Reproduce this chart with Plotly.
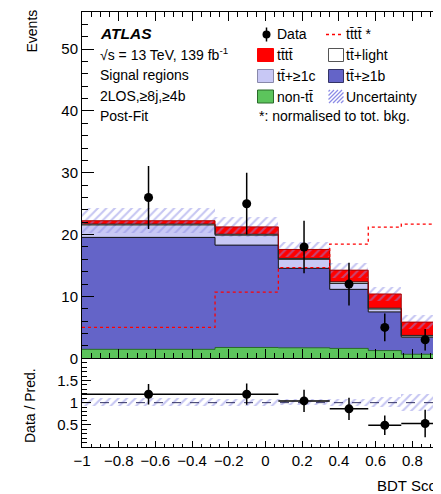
import numpy as np
import plotly.graph_objects as go

# ---------------- data ----------------
bin_edges = [-1.0, -0.275, 0.07, 0.35, 0.56, 0.74, 1.0]
data_events = [26, 25, 18, 12, 5, 3]
non_tt = [1.45, 1.75, 1.7, 1.6, 1.25, 0.65]
tt_1b = [18.1, 16.55, 12.85, 9.55, 6.25, 2.75]
tt_1c = [2.0, 1.6, 1.45, 0.95, 0.45, 0.2]
tt_light = [0.15, 0.15, 0.15, 0.25, 0.15, 0.1]
tttt = [0.55, 1.2, 1.45, 1.9, 2.3, 2.15]
bkg_unc = [2.0, 1.6, 1.15, 1.2, 1.15, 1.1]
tttt_normalised = [5.0, 10.7, 14.65, 18.45, 21.2, 21.7]
ratio_vals = [1.19, 1.19, 1.04, 0.86, 0.49, 0.53]
ratio_errs = [0.23, 0.24, 0.25, 0.25, 0.22, 0.31]
main_yticks = [0, 10, 20, 30, 40, 50]
ratio_yticks = [0.5, 1, 1.5]

# ---------------- styles ----------------
GREEN = "#5CC45C"
BLUE = "#6464C8"
LBLUE = "#C8C8F5"
WHITE = "#FFFFFF"
RED = "#FF0000"
HATCH = "#8C8CE6"
FONT = "Liberation Sans, Arial, Helvetica, sans-serif"

edges = np.array(bin_edges)
centers = (edges[:-1] + edges[1:]) / 2
widths = np.diff(edges)
half_w = widths / 2

# the page body has an 8px margin: figure is offset by (8, 8) in the window
OFF = 8
W, H = 452, 486
ML, MR, MT, MB = 74, 11, 4, 47
plot_w = W - ML - MR
plot_h = H - MT - MB
split = 88.7 / plot_h


def px(x):
    # x given in window pixels
    return (x - OFF - ML) / plot_w


def py(y):
    # y given in window pixels
    return (H - MB - (y - OFF)) / plot_h


def step(vals):
    v = list(vals)
    return v + [v[-1]]


fig = go.Figure()

components = [
    (non_tt, GREEN, "#2a6a2a"),
    (tt_1b, BLUE, "#111111"),
    (tt_1c, LBLUE, "#222222"),
    (tt_light, WHITE, "#222222"),
    (tttt, RED, "#AA0000"),
]
base = np.zeros(len(centers))
levels = []
for vals, col, lcol in components:
    v = np.array(vals, dtype=float)
    fig.add_trace(go.Bar(x=centers, y=v, base=base, width=widths,
                         marker=dict(color=col, line=dict(width=0)),
                         xaxis="x", yaxis="y", hoverinfo="skip"))
    base = base + v
    levels.append((base.copy(), lcol))

for lv, lcol in levels:
    fig.add_trace(go.Scatter(x=edges, y=step(lv), mode="lines",
                             line=dict(color=lcol, width=1, shape="hv"),
                             xaxis="x", yaxis="y", hoverinfo="skip"))

total = levels[-1][0]
unc = np.array(bkg_unc)

# uncertainty hatch (main)
fig.add_trace(go.Bar(x=centers, y=2 * unc, base=total - unc, width=widths,
                     marker=dict(color="rgba(0,0,0,0)", line=dict(width=0),
                                 pattern=dict(shape="/", fgcolor=HATCH, bgcolor="rgba(0,0,0,0)",
                                              size=6, solidity=0.35, fillmode="overlay")),
                     xaxis="x", yaxis="y", hoverinfo="skip"))

# normalised tttt dotted
fig.add_trace(go.Scatter(x=edges, y=step(tttt_normalised), mode="lines",
                         line=dict(color=RED, width=1.3, shape="hv", dash="dot"),
                         xaxis="x", yaxis="y", hoverinfo="skip"))

# data
fig.add_trace(go.Scatter(x=centers, y=data_events, mode="markers",
                         marker=dict(color="black", size=9),
                         error_y=dict(type="data", array=np.sqrt(data_events), color="black",
                                      thickness=1.5, width=0),
                         xaxis="x", yaxis="y", hoverinfo="skip"))

# ratio panel
rel = unc / total
fig.add_trace(go.Bar(x=centers, y=2 * rel, base=1 - rel, width=widths,
                     marker=dict(color="rgba(0,0,0,0)", line=dict(width=0),
                                 pattern=dict(shape="/", fgcolor=HATCH, bgcolor="rgba(0,0,0,0)",
                                              size=6, solidity=0.35, fillmode="overlay")),
                     xaxis="x2", yaxis="y2", hoverinfo="skip"))
fig.add_trace(go.Scatter(x=[edges[0], edges[-1]], y=[1, 1], mode="lines",
                         line=dict(color="#333366", width=1, dash="dash"),
                         xaxis="x2", yaxis="y2", hoverinfo="skip"))
fig.add_trace(go.Scatter(x=centers, y=ratio_vals, mode="markers",
                         marker=dict(color="black", size=9),
                         error_y=dict(type="data", array=ratio_errs, color="black", thickness=1.5, width=0),
                         error_x=dict(type="data", array=half_w, color="black", thickness=1.5, width=0),
                         xaxis="x2", yaxis="y2", hoverinfo="skip"))

axis_common = dict(showline=True, linecolor="black", linewidth=1, showgrid=False, zeroline=False,
                   tickcolor="black", tickwidth=1, ticks="inside", layer="above traces")

fig.update_layout(
    width=W, height=H,
    margin=dict(l=ML, r=MR, t=MT, b=MB),
    plot_bgcolor="white", paper_bgcolor="white",
    barmode="overlay", bargap=0, showlegend=False,
    font=dict(family=FONT, size=15, color="black"),
    xaxis=dict(domain=[0, 1], anchor="y", range=[-1, 1], showticklabels=False,
               tick0=-1, dtick=0.2, ticklen=9, mirror="ticks",
               minor=dict(dtick=0.05, ticklen=5, ticks="inside", tickcolor="black"),
               **axis_common),
    yaxis=dict(domain=[split, 1], anchor="x", range=[0, 56], tickvals=main_yticks,
               ticklen=12, mirror="ticks",
               minor=dict(dtick=2, ticklen=6, ticks="inside", tickcolor="black"),
               **axis_common),
    xaxis2=dict(domain=[0, 1], anchor="y2", range=[-1, 1], matches="x",
                tick0=-1, dtick=0.2, ticklen=6, mirror=False,
                minor=dict(dtick=0.05, ticklen=3, ticks="inside", tickcolor="black"),
                **axis_common),
    yaxis2=dict(domain=[0, split], anchor="x2", range=[0, 2], tickvals=ratio_yticks,
                ticktext=["0.5", "1", "1.5"], ticklen=9, mirror="ticks",
                minor=dict(dtick=0.1, ticklen=5, ticks="inside", tickcolor="black"),
                **axis_common),
)

ann = []


def text(x, y, s, size=14, xanchor="left", yanchor="middle", angle=0, **kw):
    ann.append(dict(x=px(x), y=py(y), xref="paper", yref="paper", text=s, showarrow=False,
                    xanchor=xanchor, yanchor=yanchor, textangle=angle,
                    font=dict(family=FONT, size=size, color="black", **kw)))


# axis titles
text(31, 8, "Events", size=14, xanchor="center", yanchor="top", angle=-90)
text(30, 405, "Data / Pred.", size=14, xanchor="center", yanchor="middle", angle=-90)
text(375, 485, "BDT Score", size=15)

# labels block
text(98, 33.5, "<b><i>ATLAS</i></b>", size=15.5)
text(98, 53.5, "√s = 13 TeV, 139 fb<sup>-1</sup>", size=14)
text(98, 75, "Signal regions", size=14)
text(98, 96, "2LOS,≥8j,≥4b", size=14)
text(98, 115.5, "Post-Fit", size=14)

# legend texts
tb = "t\u0304"
text(275, 34.5, "Data", size=14)
text(344, 34.5, "t" + tb + "t" + tb + " *", size=14)
text(275, 55, "t" + tb + "t" + tb, size=14)
text(344, 55, "t" + tb + "+light", size=14)
text(275, 76, "t" + tb + "+≥1c", size=14)
text(344, 76, "t" + tb + "+≥1b", size=14)
text(275, 96.5, "non-t" + tb, size=14)
text(344, 96.5, "Uncertainty", size=14)
text(257, 115.5, "*: normalised to tot. bkg.", size=14)

shapes = []


def box(x0, y0, x1, y1, fill, line):
    shapes.append(dict(type="rect", xref="paper", yref="paper", x0=px(x0), x1=px(x1),
                       y0=py(y0), y1=py(y1), fillcolor=fill, line=dict(color=line, width=1)))


def seg(x0, y0, x1, y1, color, width=1, dash="solid"):
    shapes.append(dict(type="line", xref="paper", yref="paper", x0=px(x0), x1=px(x1),
                       y0=py(y0), y1=py(y1), line=dict(color=color, width=width, dash=dash)))


# data marker legend
seg(266.5, 27.5, 266.5, 41.5, "black", 1.5)
shapes.append(dict(type="circle", xref="paper", yref="paper", x0=px(262.5), x1=px(270.5),
                   y0=py(30.5), y1=py(38.5), fillcolor="black", line=dict(color="black", width=0)))
# dotted tttt*
seg(326, 34.5, 342, 34.5, RED, 1.3, "dot")
# boxes
box(257.5, 48.5, 273.5, 61.5, RED, RED)
box(328.5, 48.5, 343.5, 61.5, WHITE, "#555555")
box(257.5, 69.5, 273.5, 82.5, LBLUE, "#8888aa")
box(328.5, 69.5, 343.5, 82.5, BLUE, "#333366")
box(257.5, 90, 273.5, 103, GREEN, "#2a6a2a")
# hatched uncertainty swatch
bx0, by0, bw, bh = 328.5, 103.0, 15.0, 13.0
for c in np.arange(-bw + 2.5, bh, 4.0):
    xa = max(0.0, -c)
    xb = min(bw, bh - c)
    if xb - xa < 1:
        continue
    seg(bx0 + xa, by0 - (xa + c), bx0 + xb, by0 - (xb + c), HATCH, 1.2)

fig.update_layout(annotations=ann, shapes=shapes)

fig.write_html("out.html")
